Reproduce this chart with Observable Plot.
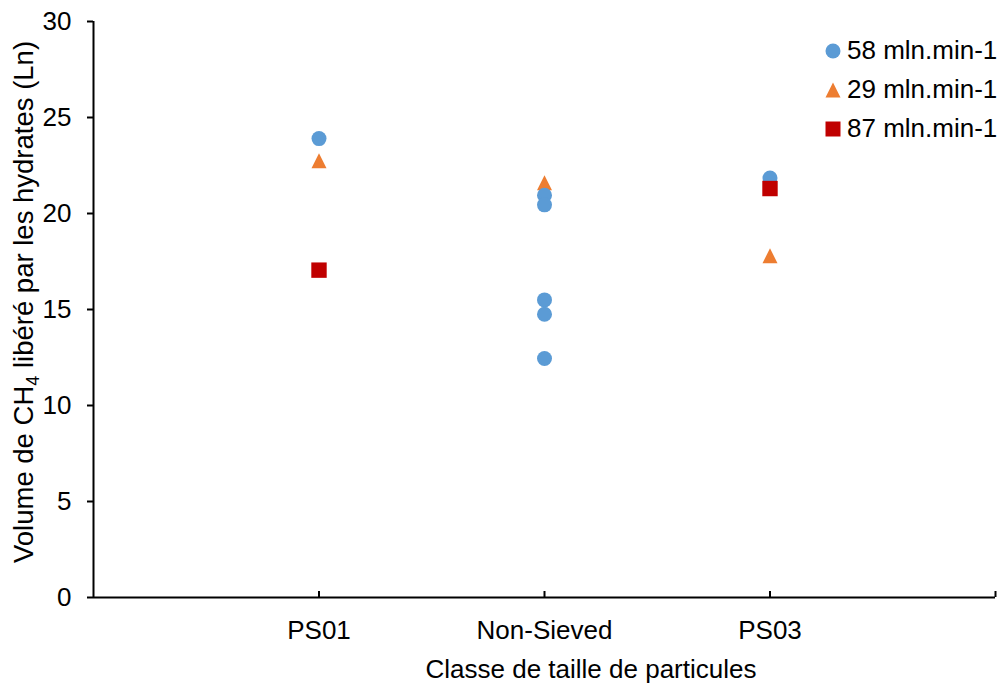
<!DOCTYPE html>
<html>
<head>
<meta charset="utf-8">
<script src="https://cdn.jsdelivr.net/npm/d3@7"></script>
<script src="https://cdn.jsdelivr.net/npm/@observablehq/plot@0.6"></script>
<style>
  body { margin: 0; background: #fff; font-family: "Liberation Sans", Arial, sans-serif; }
  #wrap { position: relative; width: 1000px; height: 686px; }
  #legend { position: absolute; left: 824px; top: 31px; font-size: 26px; color: #000; }
  #legend .row { display: flex; align-items: center; height: 39px; }
  #legend svg { margin-right: 5px; }
</style>
</head>
<body>
<div id="wrap"><div id="legend"></div></div>
<script>
const categories = ["PS01", "Non-Sieved", "PS03"];
const yTicks = [0, 5, 10, 15, 20, 25, 30];

const cats58 = ["PS01", "Non-Sieved", "Non-Sieved", "Non-Sieved", "Non-Sieved", "Non-Sieved", "PS03"];
const vals58 = [23.9, 20.95, 20.45, 15.5, 14.75, 12.45, 21.85];

const cats29 = ["PS01", "Non-Sieved", "PS03"];
const vals29 = [22.75, 21.6, 17.8];

const cats87 = ["PS01", "PS03"];
const vals87 = [17.05, 21.3];

const seriesNames = ["58 mln.min-1", "29 mln.min-1", "87 mln.min-1"];
const seriesColors = ["#5B9BD5", "#ED7D31", "#C00000"];

const triSym = { draw(ctx, size) { const r = Math.sqrt(size / Math.PI); ctx.moveTo(0, -r); ctx.lineTo(r, r); ctx.lineTo(-r, r); ctx.closePath(); } };
const sqSym = { draw(ctx, size) { const r = Math.sqrt(size / Math.PI); ctx.rect(-r, -r, 2 * r, 2 * r); } };
const symbols = [d3.symbolCircle, triSym, sqSym];

const toRows = (cats, vals, s) => cats.map((c, i) => ({ x: categories.indexOf(c) + 1, y: vals[i], s }));
const d58 = toRows(cats58, vals58, 0);
const d29 = toRows(cats29, vals29, 1);
const d87 = toRows(cats87, vals87, 2);

const chart = Plot.plot({
  width: 1000,
  height: 686,
  marginLeft: 93,
  marginRight: 5,
  marginTop: 21,
  marginBottom: 89,
  style: { fontFamily: "Liberation Sans, Arial, sans-serif", fontSize: "26px", color: "#000", background: "#fff" },
  x: { domain: [0, categories.length + 1] },
  y: { domain: [0, 30] },
  marks: [
    Plot.axisY({ ticks: yTicks, tickSize: 6, tickPadding: 16, label: null, stroke: "#000", strokeWidth: 2, fontSize: 26 }),
    Plot.axisX({ ticks: [1, 2, 3, 4], tickSize: -6, tickFormat: () => "", label: null, stroke: "#000", strokeWidth: 2 }),
    Plot.axisX({ ticks: [1, 2, 3], tickSize: 0, tickPadding: 23, tickFormat: d => categories[d - 1], label: null, fontSize: 26 }),
    Plot.ruleX([0], { stroke: "#000", strokeWidth: 2 }),
    Plot.ruleY([0], { stroke: "#000", strokeWidth: 2 }),
    Plot.dot(d29, { x: "x", y: "y", symbol: () => symbols[1], r: 7.5, fill: seriesColors[1], stroke: null }),
    Plot.dot(d58, { x: "x", y: "y", symbol: () => symbols[0], r: 7.5, fill: seriesColors[0], stroke: null }),
    Plot.dot(d87, { x: "x", y: "y", symbol: () => symbols[2], r: 7.7, fill: seriesColors[2], stroke: null })
  ]
});
document.getElementById("wrap").appendChild(chart);

const svg = d3.select(chart);
// y axis label with subscript
const yl = svg.append("text")
  .attr("transform", "translate(33,302) rotate(-90)")
  .attr("text-anchor", "middle")
  .attr("font-size", 27.5)
  .attr("fill", "#000");
yl.append("tspan").text("Volume de CH");
yl.append("tspan").attr("font-size", 18).attr("dy", 6).text("4");
yl.append("tspan").attr("dy", -6).text(" libéré par les hydrates (Ln)");
// x axis label
svg.append("text")
  .attr("x", 591).attr("y", 678)
  .attr("text-anchor", "middle")
  .attr("font-size", 26)
  .attr("fill", "#000")
  .text("Classe de taille de particules");

// legend
const leg = d3.select("#legend");
seriesNames.forEach((name, i) => {
  const row = leg.append("div").attr("class", "row");
  const s = row.append("svg").attr("width", 18).attr("height", 18);
  s.append("path").attr("transform", "translate(9,9)")
    .attr("d", d3.symbol(symbols[i], Math.PI * 7.5 * 7.5)())
    .attr("fill", seriesColors[i]);
  row.append("span").text(name);
});
</script>
</body>
</html>
